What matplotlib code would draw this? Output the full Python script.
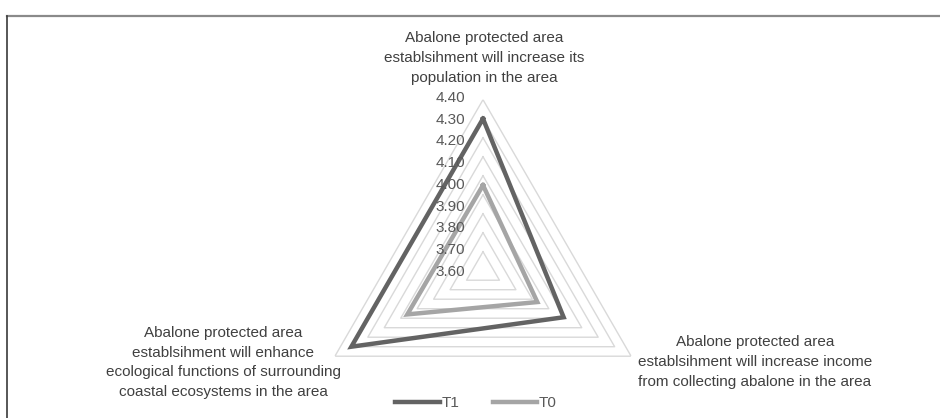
import numpy as np
import matplotlib
matplotlib.use("Agg")
import matplotlib.pyplot as plt
from matplotlib import font_manager

# statements scored before (T0) and after (T1)
categories = [
    "Abalone protected area\nestablsihment will increase its\npopulation in the area",
    "Abalone protected area\nestablsihment will increase income\nfrom collecting abalone in the area",
    "Abalone protected area\nestablsihment will enhance\necological functions of surrounding\ncoastal ecosystems in the area",
]
t1 = [4.30, 3.99, 4.30]
t0 = [3.95, 3.83, 3.96]
levels = [3.60, 3.70, 3.80, 3.90, 4.00, 4.10, 4.20, 4.30, 4.40]
level_labels = ["%.2f" % v for v in levels]

names = [f.name for f in font_manager.fontManager.ttflist]
fam = "Liberation Sans Narrow" if "Liberation Sans Narrow" in names else "Liberation Sans"
plt.rcParams["font.family"] = [fam, "DejaVu Sans"]
fs = 12.5 if fam.endswith("Narrow") else 11
ls = 1.54

W, H = 940, 418
fig = plt.figure(figsize=(9.4, 4.18), dpi=100)

# frame lines round the chart
fig.add_artist(plt.Line2D([7 / W, 1], [1 - 15.5 / H, 1 - 15.5 / H], color="#8a8a8a", lw=1.6))
fig.add_artist(plt.Line2D([7 / W, 7 / W], [0, 1 - 15.5 / H], color="#3a3a3a", lw=1.2))

# radar area: centre (483, 270.7) px, radius 171 px
cx, cy, R = 483, 270.7, 171
ax = fig.add_axes([(cx - R) / W, (H - cy - R) / H, 2 * R / W, 2 * R / H], projection="polar")
ax.set_theta_offset(np.pi / 2)
ax.set_theta_direction(-1)
ax.set_ylim(3.5, 4.4)
ax.grid(False)
ax.spines["polar"].set_visible(False)
ax.set_xticks([])
ax.set_yticks([])
ax.patch.set_visible(False)

theta = np.linspace(0, 2 * np.pi, len(categories), endpoint=False)
th_closed = np.append(theta, theta[0])

for lv in levels:
    ax.plot(th_closed, [lv] * len(th_closed), color="#d9d9d9", lw=1.0, zorder=1)

ax.plot(th_closed, t1 + t1[:1], color="#636363", lw=3.2, label="T1", zorder=3,
        solid_joinstyle="miter")
ax.plot(th_closed, t0 + t0[:1], color="#a5a5a5", lw=3.2, label="T0", zorder=2,
        solid_joinstyle="miter")

# value labels up the vertical axis
for i, lab in enumerate(level_labels[::-1]):
    fig.text(465 / W, 1 - (98 + 21.7 * i) / H, lab, ha="right", va="center",
             fontsize=fs, color="#595959")

tc = "#404040"
fig.text(484 / W, 1 - 58 / H, categories[0], ha="center", va="center",
         fontsize=fs, color=tc, linespacing=ls)
fig.text(755 / W, 1 - 362 / H, categories[1], ha="center", va="center",
         fontsize=fs, color=tc, linespacing=ls)
fig.text(223 / W, 1 - 362.5 / H, categories[2], ha="center", va="center",
         fontsize=fs, color=tc, linespacing=ls)

h, l = ax.get_legend_handles_labels()
fig.legend(h, l, loc="center", bbox_to_anchor=(476 / W, 1 - 403 / H), ncol=2,
           frameon=False, fontsize=fs, handlelength=2.9, handletextpad=0.1,
           columnspacing=2.2, labelcolor="#595959")

fig.savefig("out.png", dpi=100)
